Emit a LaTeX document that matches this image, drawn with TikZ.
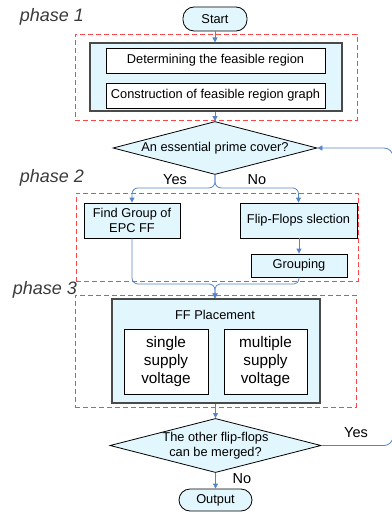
\documentclass[tikz,border=0pt]{standalone}
\usepackage{fontspec}
\setmainfont{Liberation Sans}
\usetikzlibrary{arrows.meta,shapes.geometric}
\definecolor{fillblue}{HTML}{E1F6FD}
\definecolor{lineblue}{HTML}{5585C8}
\definecolor{dashred}{HTML}{FF4545}
\definecolor{framegray}{HTML}{4A4A4A}
\definecolor{phasegray}{HTML}{3A3A3A}
\begin{document}
\begin{tikzpicture}[x=1pt,y=-1pt,
  font=\fontsize{12.8}{15}\selectfont,
  every node/.style={inner sep=0pt, align=center},
  whitebox/.style={draw=black, line width=0.8pt, fill=white},
  bluebox/.style={draw=black, line width=0.8pt, fill=fillblue},
  framebox/.style={draw=framegray, line width=1.1pt, fill=fillblue},
  terminal/.style={draw=black, line width=0.8pt, fill=fillblue, rounded corners=11pt},
  decision/.style={draw=black, line width=0.8pt, fill=fillblue, diamond, aspect=3.9},
  phasebox/.style={draw=dashred, line width=0.9pt, dash pattern=on 5pt off 3pt},
  phaselabel/.style={text=phasegray, font=\fontsize{18}{20}\selectfont\itshape},
  yesno/.style={font=\fontsize{14.5}{16}\selectfont},
  bigtext/.style={font=\fontsize{15.3}{18}\selectfont},
  conn/.style={draw=lineblue, line width=0.8pt, -{Triangle[length=5pt,width=5pt]}},
  plainconn/.style={draw=lineblue, line width=0.8pt}
]
\useasboundingbox (0,0) rectangle (391,516);

% phase boxes
\node[phasebox, minimum width=282pt, minimum height=86pt] (p1) at (216,77) {};
\node[phasebox, minimum width=282pt, minimum height=88pt] (p2) at (217,237) {};
\node[phasebox, minimum width=281pt, minimum height=112pt] (p3) at (215.5,351) {};

% phase labels
\node[phaselabel] (l1) at (52,17) {phase 1};
\node[phaselabel] (l2) at (52,178) {phase 2};
\node[phaselabel] (l3) at (45,290) {phase 3};

% phase 1
\node[terminal, minimum width=64pt, minimum height=24pt] (start) at (215,19) {Start};
\node[framebox, minimum width=252pt, minimum height=68pt] (inner1) at (216,77) {};
\node[whitebox, minimum width=219pt, minimum height=25pt] (det) at (215.5,60.5) {Determining the feasible region};
\node[whitebox, minimum width=219pt, minimum height=25pt] (con) at (215.5,95.5) {Construction of feasible region graph};

\node[decision, minimum width=204pt, minimum height=53pt] (dia1) at (215,148) {An essential prime cover?};

% phase 2
\node[bluebox, minimum width=96pt, minimum height=35pt] (find) at (132,220.5) {Find Group of\\EPC FF};
\node[bluebox, minimum width=117pt, minimum height=35pt] (ffsel) at (298.5,220.5) {Flip-Flops slection};
\node[bluebox, minimum width=96pt, minimum height=23pt] (group) at (299,265.5) {Grouping};

\node[yesno] (yes1) at (175,180) {Yes};
\node[yesno] (no1) at (257,180) {No};

% phase 3
\node[framebox, minimum width=208pt, minimum height=104pt] (ffplace) at (216,351) {};
\node (fftitle) at (215,315) {FF Placement};
\node[whitebox, bigtext, minimum width=84pt, minimum height=65pt] (single) at (166,361.5) {single\\supply\\voltage};
\node[whitebox, bigtext, minimum width=83pt, minimum height=65pt] (multi) at (265.5,361.5) {multiple\\supply\\voltage};

\node[decision, minimum width=205pt, minimum height=51pt] (dia2) at (215.5,445.5) {The other flip-flops\\can be merged?};
\node[terminal, minimum width=73pt, minimum height=22pt] (output) at (215.5,500) {Output};

\node[yesno] (yes2) at (356,433) {Yes};
\node[yesno] (no2) at (242,479) {No};

\coordinate (m) at (215,284);
\coordinate (rt) at (393,300);

% connectors
\draw[conn] (start.south) -- (start.south |- inner1.north);
\draw[conn] (inner1.south -| dia1.north) -- (dia1.north);
\draw[conn, rounded corners=6pt] (dia1.south) -- ++(0,13) -| (find.north);
\draw[conn, rounded corners=6pt] (dia1.south) -- ++(0,13) -| (ffsel.north);
\draw[conn] (ffsel.south -| group.north) -- (group.north);
\draw[conn, rounded corners=6pt] (find.south) |- (m) -- (m |- ffplace.north);
\draw[conn, rounded corners=5pt] (group.south) |- (m) -- (m |- ffplace.north);
\draw[conn] (ffplace.south -| dia2.north) -- (dia2.north);
\draw[conn] (dia2.south) -- (output.north);
\draw[conn, rounded corners=9pt] (dia2.east) -| (rt) |- (dia1.east);
\end{tikzpicture}
\end{document}
